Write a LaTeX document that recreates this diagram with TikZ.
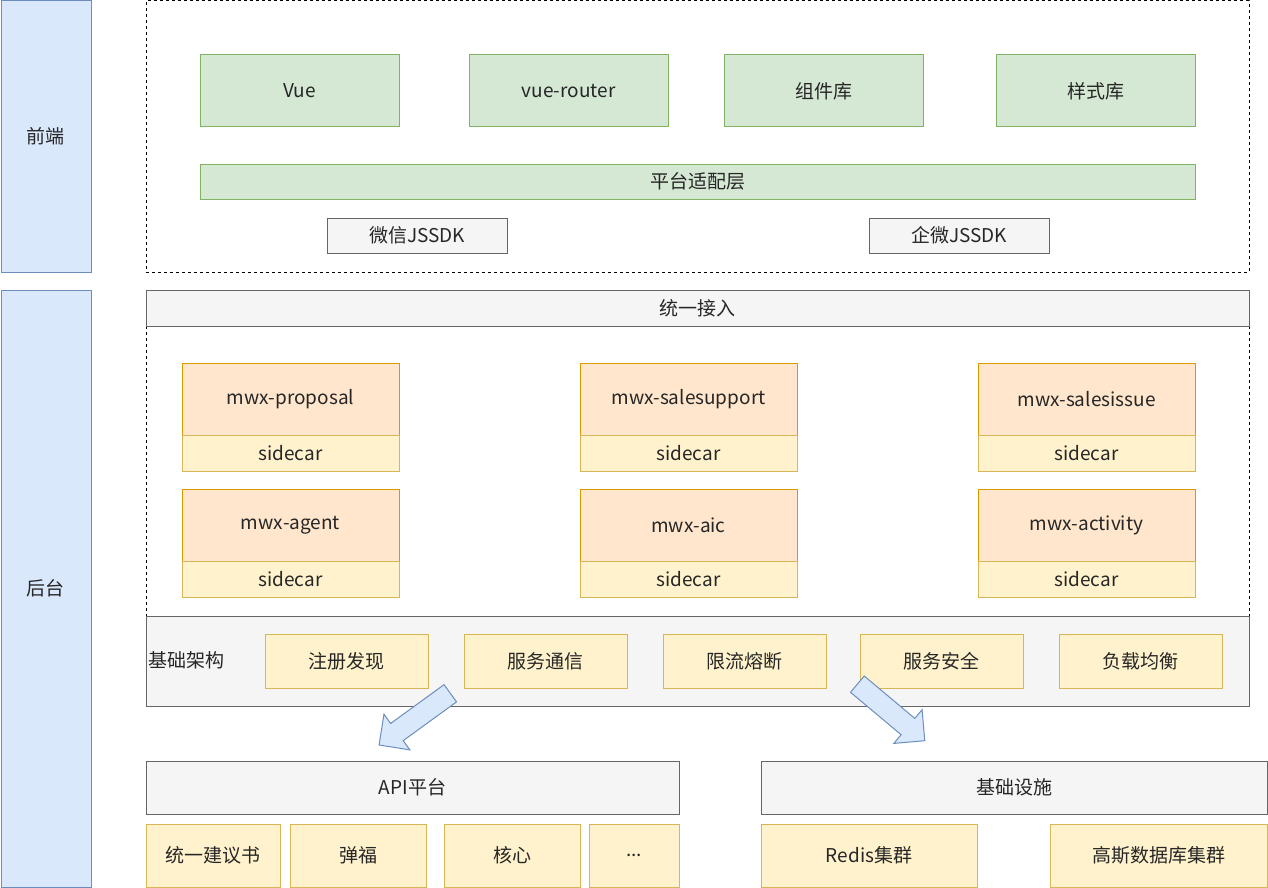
\documentclass[tikz,border=0pt]{standalone}
\usepackage{fontspec}
\setmainfont{Noto Sans CJK SC}
\usetikzlibrary{shapes.arrows}
\definecolor{bluef}{HTML}{DAE8FC}\definecolor{blued}{HTML}{6C8EBF}
\definecolor{greenf}{HTML}{D5E8D4}\definecolor{greend}{HTML}{82B366}
\definecolor{grayf}{HTML}{F5F5F5}\definecolor{grayd}{HTML}{666666}
\definecolor{orf}{HTML}{FFE6CC}\definecolor{ord}{HTML}{D79B00}
\definecolor{yef}{HTML}{FFF2CC}\definecolor{yed}{HTML}{D6B656}
\newcommand\bx[7]{%
 \pgfmathsetmacro\cx{(#3+#5)/2}\pgfmathsetmacro\cy{(#4+#6)/2}%
 \pgfmathsetmacro\ww{#5-#3}\pgfmathsetmacro\hh{#6-#4}%
 \node[#2,minimum width=\ww pt,minimum height=\hh pt] (#1) at (\cx,\cy) {#7};}
\begin{document}
\begin{tikzpicture}[x=1pt,y=-1pt,
 every node/.style={inner sep=0pt,outer sep=0pt,font=\fontsize{19pt}{22pt}\selectfont,text=black!85},
 bl/.style={draw=blued,fill=bluef,line width=1pt},
 gr/.style={draw=greend,fill=greenf,line width=1pt},
 gy/.style={draw=grayd,fill=grayf,line width=1pt},
 orr/.style={draw=ord,fill=orf,line width=1pt},
 ye/.style={draw=yed,fill=yef,line width=1pt},
 dsh/.style={draw=black,dash pattern=on 3pt off 3pt,line width=1pt},
 barrow/.style={single arrow,draw=blued,fill=bluef,line width=1pt,inner sep=7pt,minimum width=44pt,single arrow head extend=8pt,single arrow head indent=0pt,minimum height=88pt,anchor=center}]
\useasboundingbox (0,0) rectangle (1268,888);
\bx{fe}{bl}{1}{1}{91}{272}{前端}
\bx{be}{bl}{1}{290}{91}{887}{后台}
\bx{fedash}{dsh}{146}{1}{1249}{272}{}
\bx{vue}{gr}{200}{55}{399}{127}{Vue}
\bx{vr}{gr}{469}{55}{668}{127}{vue-router}
\bx{zj}{gr}{724}{55}{923}{127}{组件库}
\bx{ys}{gr}{996}{55}{1195}{127}{样式库}
\bx{pt}{gr}{200}{164}{1195}{199}{平台适配层}
\bx{wx}{gy}{327}{218}{507}{253}{微信JSSDK}
\bx{qw}{gy}{869}{218}{1049}{253}{企微JSSDK}
\coordinate (d1) at (146,326);\coordinate (d2) at (146,616);
\coordinate (d3) at (1249,326);\coordinate (d4) at (1249,616);
\draw[dsh] (d1) -- (d2); \draw[dsh] (d3) -- (d4);
\bx{ty}{gy}{146}{290}{1249}{326}{统一接入}
\bx{s1}{orr}{182}{363}{399}{435}{mwx-proposal}
\bx{c1}{ye}{182}{435}{399}{471}{sidecar}
\bx{s2}{orr}{580}{363}{797}{435}{mwx-salesupport}
\bx{c2}{ye}{580}{435}{797}{471}{sidecar}
\bx{s3}{orr}{978}{363}{1195}{435}{mwx-salesissue}
\bx{c3}{ye}{978}{435}{1195}{471}{sidecar}
\bx{s4}{orr}{182}{489}{399}{561}{mwx-agent}
\bx{c4}{ye}{182}{561}{399}{597}{sidecar}
\bx{s5}{orr}{580}{489}{797}{561}{mwx-aic}
\bx{c5}{ye}{580}{561}{797}{597}{sidecar}
\bx{s6}{orr}{978}{489}{1195}{561}{mwx-activity}
\bx{c6}{ye}{978}{561}{1195}{597}{sidecar}
\bx{jc}{gy}{146}{616}{1249}{706}{}
\node[anchor=west] (jcl) at (148,660) {基础架构};
\bx{i1}{ye}{265}{634}{428}{688}{注册发现}
\bx{i2}{ye}{464}{634}{627}{688}{服务通信}
\bx{i3}{ye}{663}{634}{826}{688}{限流熔断}
\bx{i4}{ye}{860}{634}{1023}{688}{服务安全}
\bx{i5}{ye}{1059}{634}{1222}{688}{负载均衡}
\node[barrow,rotate=216] (a1) at (419,716) {};
\node[barrow,rotate=-40] (a2) at (887,709) {};
\bx{api}{gy}{146}{761}{679}{814}{API平台}
\bx{jcss}{gy}{761}{761}{1267}{814}{基础设施}
\bx{b1}{ye}{146}{824}{280}{887}{统一建议书}
\bx{b2}{ye}{290}{824}{426}{887}{弹福}
\bx{b3}{ye}{444}{824}{580}{887}{核心}
\bx{b4}{ye}{589}{824}{679}{887}{...}
\bx{b5}{ye}{761}{824}{977}{887}{Redis集群}
\bx{b6}{ye}{1050}{824}{1267}{887}{高斯数据库集群}
\end{tikzpicture}
\end{document}
